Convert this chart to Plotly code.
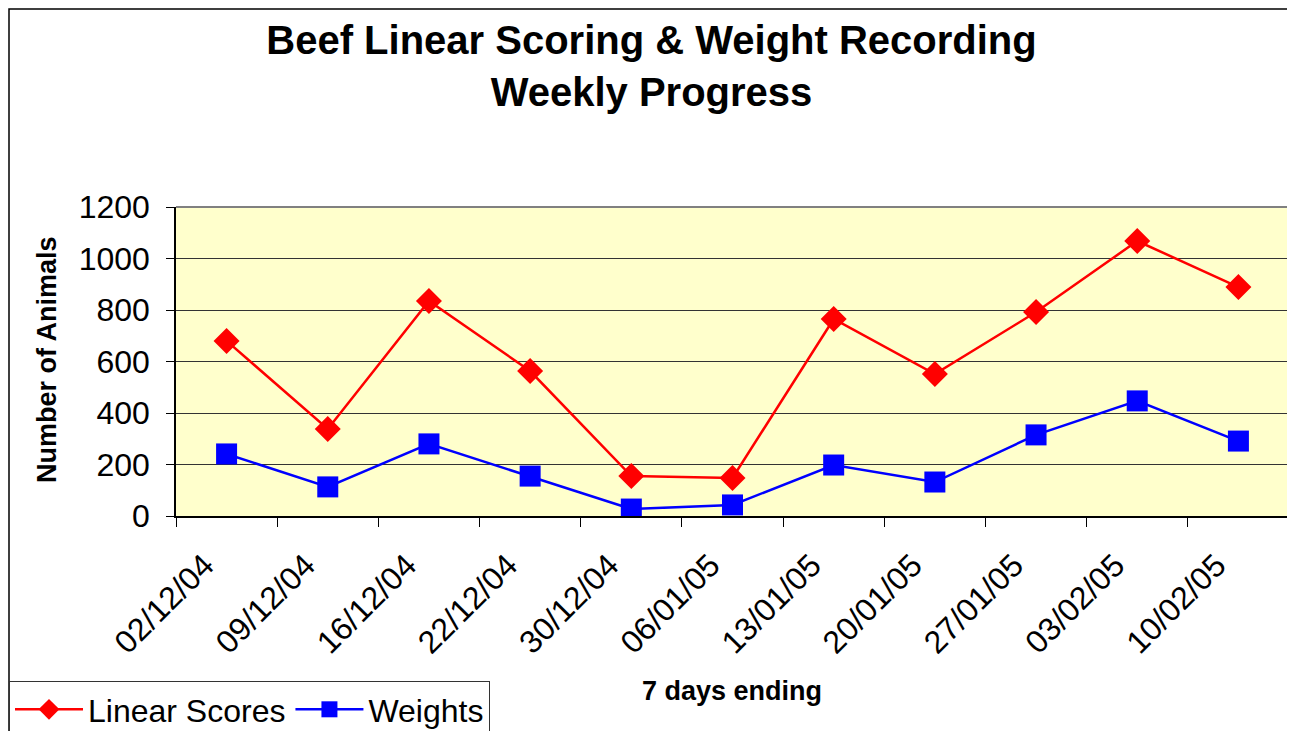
import plotly.graph_objects as go

categories = ["02/12/04", "09/12/04", "16/12/04", "22/12/04", "30/12/04", "06/01/05",
              "13/01/05", "20/01/05", "27/01/05", "03/02/05", "10/02/05"]
linear_scores = [680, 338, 835, 563, 155, 148, 765, 551, 792, 1068, 889]
weights = [241, 113, 280, 155, 27, 43, 198, 132, 315, 447, 291]

FONT = "Liberation Sans, Arial, sans-serif"

# page offset of the plot div (body margin)
OFF = 8
W, H = 1295 - OFF, 731 - OFF
PLOT_L, PLOT_R, PLOT_T, PLOT_B = 176, 1289, 207, 516  # page pixels
L = PLOT_L - OFF
R = W - (PLOT_R - OFF)
T = PLOT_T - OFF
B = H - (PLOT_B - OFF)
pw = W - L - R
ph = H - T - B


def px_x(x):
    return (x - PLOT_L) / pw


def px_y(y):
    return (PLOT_B - y) / ph


fig = go.Figure()
fig.add_trace(go.Scatter(
    x=categories, y=linear_scores, name="Linear Scores", mode="lines+markers",
    line=dict(color="#FF0000", width=2.5),
    marker=dict(symbol="diamond", size=20, color="#FF0000"),
))
fig.add_trace(go.Scatter(
    x=categories, y=weights, name="Weights", mode="lines+markers",
    line=dict(color="#0000FF", width=2.5),
    marker=dict(symbol="square", size=21, color="#0000FF"),
))

fig.update_layout(
    width=W, height=H,
    margin=dict(l=L, r=R, t=T, b=B, autoexpand=False),
    paper_bgcolor="white",
    plot_bgcolor="#FFFFCC",
    font=dict(family=FONT, color="black"),
    title=dict(
        text="<b>Beef Linear Scoring & Weight Recording<br>Weekly Progress</b>",
        x=0.5, xref="container", xanchor="center",
        y=1 - 46 / H, yref="container", yanchor="top",
        font=dict(size=40, family=FONT, color="black"),
    ),
    showlegend=True,
    legend=dict(
        orientation="h",
        x=px_x(9), xanchor="left",
        y=px_y(681), yanchor="top",
        font=dict(size=32, family=FONT, color="black"),
        bgcolor="white", bordercolor="#333333", borderwidth=1,
        itemwidth=68,
        tracegroupgap=0,
    ),
)

fig.update_xaxes(
    type="category",
    range=[-0.5, len(categories) - 0.5],
    tickson="boundaries",
    ticks="outside", ticklen=9, tickcolor="black", tickwidth=1,
    showline=True, linecolor="black", linewidth=1.5,
    showgrid=False,
    tickangle=-45,
    tickfont=dict(size=32, family=FONT, color="black"),
    ticklabelstandoff=16,
    ticklabelshift=-22,
)
fig.update_yaxes(
    range=[0, 1200], dtick=200,
    ticks="outside", ticklen=8, tickcolor="black", tickwidth=1,
    showline=True, linecolor="black", linewidth=1.5,
    showgrid=True, gridcolor="#333333", gridwidth=1,
    zeroline=False,
    tickfont=dict(size=32, family=FONT, color="black"),
    ticklabelstandoff=10,
)

# axis titles
fig.add_annotation(
    text="<b>Number of Animals</b>", textangle=-90,
    x=px_x(47), y=px_y(360), xref="paper", yref="paper",
    xanchor="center", yanchor="middle", showarrow=False,
    font=dict(size=27, family=FONT, color="black"),
)
fig.add_annotation(
    text="<b>7 days ending</b>",
    x=px_x(732), y=px_y(691), xref="paper", yref="paper",
    xanchor="center", yanchor="middle", showarrow=False,
    font=dict(size=27, family=FONT, color="black"),
)

# grey top/right border of plot area
fig.add_shape(type="line", xref="paper", yref="paper", x0=0, x1=1, y0=1, y1=1,
              line=dict(color="#808080", width=2), layer="above")
fig.add_shape(type="line", xref="paper", yref="paper", x0=1, x1=1, y0=0, y1=1,
              line=dict(color="#808080", width=2), layer="above")

# outer chart frame
fig.add_shape(type="rect", xref="paper", yref="paper",
              x0=px_x(9), x1=px_x(1291), y0=px_y(760), y1=px_y(9),
              line=dict(color="black", width=1.5), fillcolor="rgba(0,0,0,0)",
              layer="above")

fig.write_html("out.html")
